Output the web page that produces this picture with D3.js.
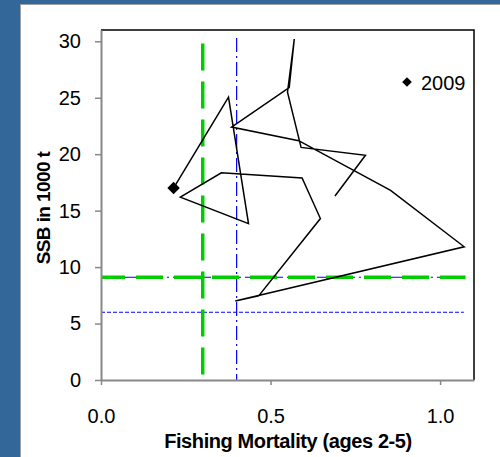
<!DOCTYPE html>
<html>
<head>
<meta charset="utf-8">
<script src="https://cdn.jsdelivr.net/npm/d3@7"></script>
<style>
  body { margin: 0; background: #336699; }
  svg { display: block; font-family: "Liberation Sans", Arial, sans-serif; }
</style>
</head>
<body>
<script>
// DATA

const years = d3.range(1991, 2010);
const fishingMortality = [0.69, 0.78, 0.59, 0.55, 0.57, 0.555, 0.385, 0.583, 0.854, 1.071, 0.396, 0.465, 0.647, 0.593, 0.355, 0.234, 0.435, 0.376, 0.214];
const ssb = [16.3, 19.9, 20.6, 25.5, 30.2, 25.9, 22.4, 21.2, 16.8, 11.8, 7.0, 7.45, 14.3, 17.9, 18.35, 16.2, 13.85, 25.05, 17.0];
const xTicks = [0, 0.5, 1.0];
const yTicks = [0, 5, 10, 15, 20, 25, 30];
const fpa = 0.3, flim = 0.4, bpa = 9.1, blim = 6;

const traj = years.map((yr, i) => ({ year: yr, f: fishingMortality[i], b: ssb[i] }));

// MAKE THE CHART

const W = 500;
const H = 457;

const svg = d3.select("body")
  .append("svg")
  .attr("width", W)
  .attr("height", H);

// blue frame + white panel
svg.append("rect")
  .attr("width", W).attr("height", H)
  .attr("fill", "#336699");
svg.append("rect")
  .attr("x", 20.5).attr("y", 4.5)
  .attr("width", W).attr("height", H)
  .attr("fill", "#fff")
  .attr("stroke", "#a0a0a0");

const xScale = d3.scaleLinear().domain([0, 1.1]).range([101, 474]);
const yScale = d3.scaleLinear().domain([0, 31]).range([380, 30]);

// top and right border of plot area
svg.append("path")
  .attr("d", `M${xScale(0)},${yScale(31)}H${xScale(1.1)}V${yScale(0)}`)
  .attr("fill", "none")
  .attr("stroke", "#000")
  .attr("stroke-width", 1.5);

const line = d3.line().x(d => xScale(d[0])).y(d => yScale(d[1]));

// reference lines
svg.append("path")
  .attr("d", line([[0, bpa], [1.07, bpa]]))
  .attr("fill", "none").attr("stroke", "#0000ff").attr("stroke-width", 1.2)
  .attr("stroke-dasharray", "14,4,2,4");
svg.append("path")
  .attr("d", line([[0, blim], [1.07, blim]]))
  .attr("fill", "none").attr("stroke", "#0000ff").attr("stroke-width", 1.1)
  .attr("stroke-dasharray", "4,2");
svg.append("path")
  .attr("d", line([[flim, 30.3], [flim, 0]]))
  .attr("fill", "none").attr("stroke", "#0000ff").attr("stroke-width", 1.2)
  .attr("stroke-dasharray", "14,4,2,4");
svg.append("path")
  .attr("d", line([[fpa, 29.8], [fpa, 0]]))
  .attr("fill", "none").attr("stroke", "#00cc00").attr("stroke-width", 3.5)
  .attr("stroke-dasharray", "27,11");
svg.append("path")
  .attr("d", line([[0, bpa], [1.075, bpa]]))
  .attr("fill", "none").attr("stroke", "#00cc00").attr("stroke-width", 3.5)
  .attr("stroke-dasharray", "27,11")
  .attr("stroke-dashoffset", 3);

// trajectory
svg.append("path")
  .attr("d", line(traj.map(d => [d.f, d.b])))
  .attr("fill", "none")
  .attr("stroke", "#000")
  .attr("stroke-width", 1.5)
  .attr("stroke-linejoin", "miter");

const last = traj[traj.length - 1];
const diamond = d3.symbol().type(d3.symbolDiamond2).size(100);
svg.append("path")
  .attr("d", diamond())
  .attr("transform", `translate(${xScale(last.f)},${yScale(last.b)})`)
  .attr("fill", "#000");

// axes
const xAxis = d3.axisBottom(xScale)
  .tickValues(xTicks)
  .tickFormat(d3.format(".1f"))
  .tickSize(5)
  .tickSizeOuter(0)
  .tickPadding(24);

const yAxis = d3.axisLeft(yScale)
  .tickValues(yTicks)
  .tickSize(6)
  .tickSizeOuter(0)
  .tickPadding(14);

const gx = svg.append("g")
  .attr("transform", `translate(0,${yScale(0)})`)
  .call(xAxis);

const gy = svg.append("g")
  .attr("transform", `translate(${xScale(0)},0)`)
  .call(yAxis);

[gx, gy].forEach(g => {
  g.select(".domain").attr("stroke", "#888").attr("stroke-width", 2);
  g.selectAll(".tick line").attr("stroke", "#888").attr("stroke-width", 1.5);
  g.selectAll(".tick text")
    .attr("fill", "#000")
    .style("font-size", "20px")
    .style("font-family", "Liberation Sans, Arial, sans-serif");
});

// legend
const legend = svg.append("g").attr("transform", "translate(407,82)");
legend.append("path")
  .attr("d", d3.symbol().type(d3.symbolDiamond2).size(60)())
  .attr("fill", "#000");
legend.append("text")
  .text(last.year)
  .attr("x", 14)
  .attr("y", 8)
  .style("font-size", "20px");

// axis titles
svg.append("text")
  .text("Fishing Mortality (ages 2-5)")
  .attr("x", 288)
  .attr("y", 448)
  .attr("text-anchor", "middle")
  .style("font-size", "20px")
  .style("font-weight", "bold")
  .style("letter-spacing", "-0.4px");

svg.append("text")
  .text("SSB in 1000 t")
  .attr("transform", "translate(50,208) rotate(-90)")
  .attr("text-anchor", "middle")
  .style("font-size", "19px")
  .style("font-weight", "bold")
  .style("letter-spacing", "-0.6px");
</script>
</body>
</html>
